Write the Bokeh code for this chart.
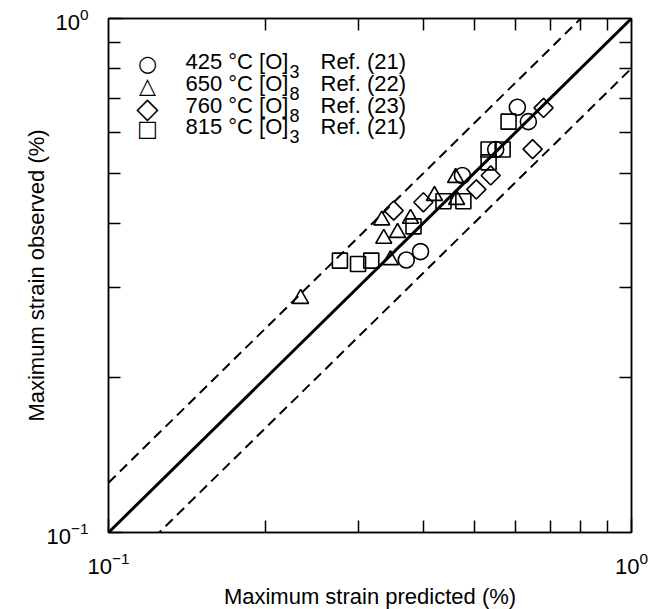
import math
from bokeh.plotting import figure
from bokeh.models import LogAxis, FixedTicker, Label
from bokeh.embed import file_html
from bokeh.resources import INLINE

# ---- data ----
c425_pred = [0.605, 0.635, 0.550, 0.475, 0.395, 0.371]
c425_obs = [0.672, 0.630, 0.556, 0.495, 0.352, 0.339]

t650_pred = [0.461, 0.420, 0.463, 0.333, 0.378, 0.357, 0.336, 0.346, 0.233]
t650_obs = [0.490, 0.452, 0.444, 0.405, 0.408, 0.383, 0.373, 0.339, 0.285]

d760_pred = [0.679, 0.647, 0.538, 0.505, 0.400, 0.351]
d760_obs = [0.670, 0.557, 0.495, 0.465, 0.439, 0.423]

s815_pred = [0.582, 0.533, 0.567, 0.533, 0.437, 0.477, 0.383, 0.318, 0.300, 0.277]
s815_obs = [0.630, 0.556, 0.556, 0.525, 0.441, 0.441, 0.394, 0.338, 0.333, 0.338]

legend_symbols = ["\u25cb", "\u25b3", "\u25c7", "\u25a1"]
legend_labels = ["425 \u00b0C [O]", "650 \u00b0C [O]", "760 \u00b0C [O]", "815 \u00b0C [O]"]
legend_subs = ["3", "8", "8", "3"]
legend_refs = ["Ref. (21)", "Ref. (22)", "Ref. (23)", "Ref. (21)"]

line_x = [0.1, 1.0]
band_factors = [1.25, 0.8]

major_ticks = [0.1, 1.0]
minor_ticks = [0.2, 0.3, 0.4, 0.5, 0.6, 0.7, 0.8, 0.9]

FONT = "Liberation Sans"

p = figure(x_axis_type="log", y_axis_type="log",
           x_range=(0.1, 1.0), y_range=(0.1, 1.0),
           frame_width=523, frame_height=514,
           min_border_left=108, min_border_right=31,
           min_border_top=18, min_border_bottom=77,
           output_backend="svg", toolbar_location=None)
p.background_fill_color = "white"
p.border_fill_color = "white"
p.outline_line_color = "black"
p.outline_line_width = 1.5
p.xgrid.visible = False
p.ygrid.visible = False

# reference lines
p.line(line_x, line_x, line_color="black", line_width=3)
for f in band_factors:
    p.line(line_x, [v * f for v in line_x], line_color="black",
           line_width=2, line_dash="10 6")

sty = dict(fill_color=None, line_color="black", line_width=1.6)
p.scatter(c425_pred, c425_obs, marker="circle", size=16, **sty)
p.scatter(t650_pred, t650_obs, marker="triangle", size=16, **sty)
p.scatter(d760_pred, d760_obs, marker="square", size=13.5,
          angle=math.pi / 4, **sty)
p.scatter(s815_pred, s815_obs, marker="square", size=15, **sty)


def style_axis(ax, show_labels=True):
    if show_labels:
        ax.ticker = FixedTicker(ticks=major_ticks, minor_ticks=minor_ticks)
    else:
        ax.ticker = FixedTicker(ticks=[], minor_ticks=minor_ticks)
    ax.major_tick_in = 14
    ax.major_tick_out = 0
    ax.minor_tick_in = 12
    ax.minor_tick_out = 0
    ax.axis_line_color = "black"
    ax.axis_line_width = 1.5
    ax.major_tick_line_width = 1.5
    ax.minor_tick_line_width = 1.5
    ax.major_label_text_font = FONT
    ax.major_label_text_font_size = "22px"
    ax.major_label_text_color = "black"
    ax.axis_label_text_font = FONT
    ax.axis_label_text_font_size = "22px"
    ax.axis_label_text_font_style = "normal"
    ax.axis_label_text_color = "black"


style_axis(p.xaxis[0])
style_axis(p.yaxis[0])
p.xaxis[0].axis_label = "Maximum strain predicted (%)"
p.yaxis[0].axis_label = "Maximum strain observed (%)"
p.xaxis[0].major_label_standoff = 19
p.yaxis[0].major_label_standoff = 20
p.xaxis[0].axis_label_standoff = 7
p.yaxis[0].axis_label_standoff = -6

top_ax = LogAxis()
right_ax = LogAxis()
style_axis(top_ax, show_labels=False)
style_axis(right_ax, show_labels=False)
top_ax.major_label_standoff = 0
right_ax.major_label_standoff = 0
p.add_layout(top_ax, "above")
p.add_layout(right_ax, "right")

# legend block (frame-relative screen units, measured from the bottom)
row_centers = [469, 447, 425, 404]
symbol_sizes = ["22px", "22px", "29px", "22px"]
for yc, sym, ssz, lab, sub, ref in zip(row_centers, legend_symbols, symbol_sizes,
                                       legend_labels, legend_subs, legend_refs):
    p.add_layout(Label(x=39, y=yc, x_units="screen", y_units="screen",
                       text=sym, text_font="DejaVu Sans", text_font_size=ssz,
                       text_baseline="middle", text_align="center",
                       text_color="black"))
    p.add_layout(Label(x=77, y=yc + 2, x_units="screen", y_units="screen",
                       text=lab, text_font=FONT, text_font_size="22px",
                       text_baseline="middle", text_align="left",
                       text_color="black"))
    p.add_layout(Label(x=181, y=yc - 8, x_units="screen", y_units="screen",
                       text=sub, text_font=FONT, text_font_size="18px",
                       text_baseline="middle", text_align="left",
                       text_color="black"))
    p.add_layout(Label(x=212, y=yc + 2, x_units="screen", y_units="screen",
                       text=ref, text_font=FONT, text_font_size="22px",
                       text_baseline="middle", text_align="left",
                       text_color="black"))

open("out.html", "w").write(file_html(p, INLINE))
